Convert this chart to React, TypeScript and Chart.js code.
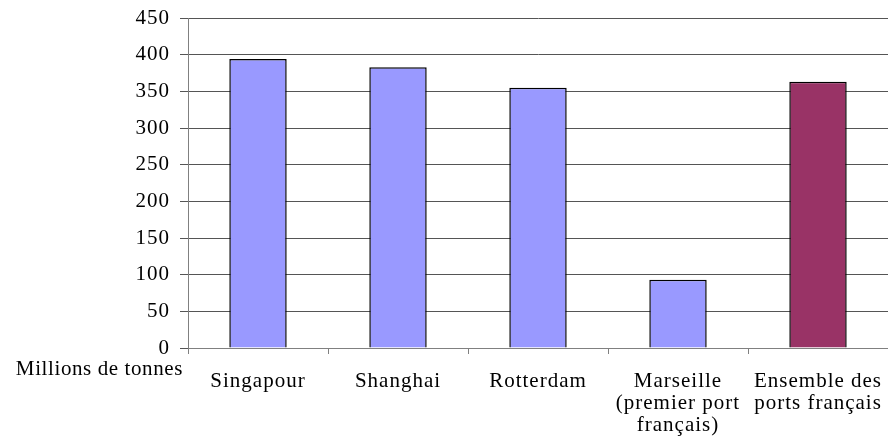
import React, { useEffect, useRef } from "react";
import { Chart, registerables } from "chart.js";

Chart.register(...registerables);

const categories: (string | string[])[] = [
  "Singapour",
  "Shanghai",
  "Rotterdam",
  ["Marseille", "(premier port", "français)"],
  ["Ensemble des", "ports français"],
];
const values = [394, 383, 355, 93, 363];
const barColors = ["#9999FF", "#9999FF", "#9999FF", "#9999FF", "#993366"];
const yUnitLabel = "Millions de tonnes";
const yMin = 0;
const yMax = 450;
const yStep = 50;

const FONT = "'Liberation Serif', 'Times New Roman', serif";
const FSIZE = 21;

const spacingPlugin = {
  id: "spacing",
  beforeDraw(chart: any) {
    try {
      chart.ctx.letterSpacing = "1px";
    } catch (e) {}
  },
  afterDraw(chart: any) {
    const { ctx, chartArea } = chart;
    ctx.save();
    try {
      ctx.letterSpacing = "0.6px";
    } catch (e) {}
    ctx.font = `${FSIZE}px ${FONT}`;
    ctx.fillStyle = "#000";
    ctx.textAlign = "right";
    ctx.textBaseline = "alphabetic";
    ctx.fillText(yUnitLabel, chartArea.left - 5, chartArea.bottom + 27);
    ctx.restore();
  },
};

export default function App() {
  const ref = useRef<HTMLCanvasElement | null>(null);
  useEffect(() => {
    document.body.style.margin = "0";
    const chart = new Chart(ref.current!, {
      type: "bar",
      data: {
        labels: categories,
        datasets: [
          {
            data: values,
            backgroundColor: barColors,
            borderColor: "#000",
            borderWidth: 1.5,
            barPercentage: 0.41,
            categoryPercentage: 1,
          },
        ],
      },
      options: {
        responsive: false,
        animation: false,
        layout: { padding: { top: 18, left: 0, right: 0, bottom: 0 } },
        plugins: { legend: { display: false }, tooltip: { enabled: false } },
        scales: {
          x: {
            grid: {
              offset: true,
              drawOnChartArea: false,
              drawTicks: true,
              tickLength: 6,
              color: "#808080",
            },
            border: { color: "#808080", width: 1 },
            ticks: {
              color: "#000",
              font: { family: FONT, size: FSIZE, lineHeight: 1.05 },
              padding: 16,
              maxRotation: 0,
              autoSkip: false,
            },
            afterFit(scale: any) {
              scale.height = 100;
              scale.paddingRight = 0;
              scale.paddingLeft = 0;
            },
          },
          y: {
            min: yMin,
            max: yMax,
            ticks: {
              stepSize: yStep,
              color: "#000",
              font: { family: FONT, size: FSIZE },
              padding: 10,
            },
            grid: { color: "#555555", tickLength: 8, lineWidth: 1 },
            border: { color: "#808080", width: 1 },
            afterFit(scale: any) {
              scale.width = 188;
              scale.paddingTop = 0;
              scale.paddingBottom = 0;
            },
          },
        },
      },
      plugins: [spacingPlugin],
    });
    return () => chart.destroy();
  }, []);
  return (
    <div style={{ width: 888, height: 448 }}>
      <canvas ref={ref} width={888} height={448} />
    </div>
  );
}
